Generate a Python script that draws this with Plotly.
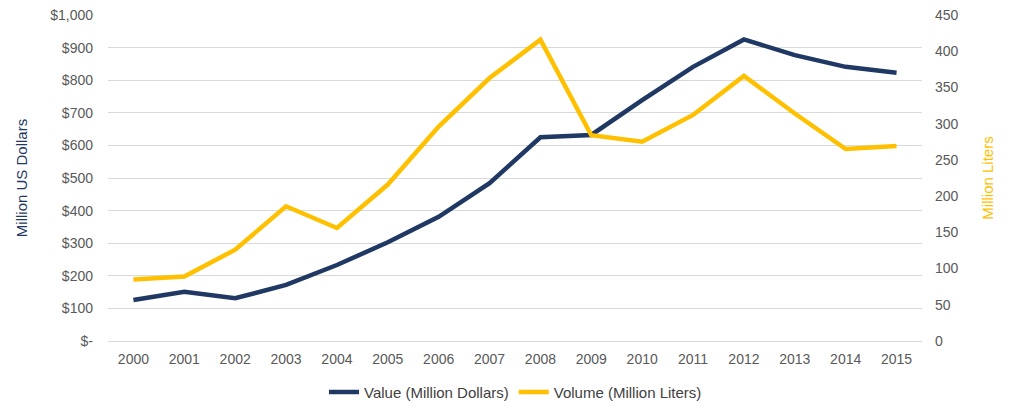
import plotly.graph_objects as go

years = [str(y) for y in range(2000, 2016)]
value_musd = [126, 151, 131, 172, 233, 303, 381, 484, 625, 632, 739, 841, 925, 877, 841, 823]
volume_ml = [85, 89, 126, 186, 156, 216, 296, 363, 416, 284, 275, 312, 366, 314, 265, 269]

left_tickvals = [0, 100, 200, 300, 400, 500, 600, 700, 800, 900, 1000]
left_ticktext = ["$-", "$100", "$200", "$300", "$400", "$500", "$600", "$700", "$800", "$900", "$1,000"]
right_tickvals = [0, 50, 100, 150, 200, 250, 300, 350, 400, 450]

NAVY = "#1f3864"
GOLD = "#ffc000"
FONT = "Liberation Sans, Arial, sans-serif"

fig = go.Figure()
fig.add_trace(go.Scatter(x=years, y=value_musd, name="Value (Million Dollars)",
                         mode="lines", line=dict(color=NAVY, width=4.5), yaxis="y"))
fig.add_trace(go.Scatter(x=years, y=volume_ml, name="Volume (Million Liters)",
                         mode="lines", line=dict(color=GOLD, width=4.5), yaxis="y2"))

fig.update_layout(
    width=1015, height=414,
    margin=dict(l=100, r=101, t=7, b=81, autoexpand=False),
    paper_bgcolor="white", plot_bgcolor="white",
    font=dict(family=FONT, size=14, color="#595959"),
    showlegend=True,
    legend=dict(orientation="h", x=0.5, xanchor="center", xref="container",
                y=0.072, yanchor="middle", yref="container",
                font=dict(size=15, color="#404040"), itemwidth=30),
    xaxis=dict(type="category", range=[-0.5, 15.5], showgrid=False, showline=True,
               linecolor="#d9d9d9", linewidth=1, ticks="outside", ticklen=5,
               tickcolor="rgba(0,0,0,0)", tickfont=dict(size=14, color="#595959")),
    yaxis=dict(range=[0, 1000], tickvals=left_tickvals, ticktext=left_ticktext,
               showgrid=True, gridcolor="#d9d9d9", gridwidth=1, zeroline=False,
               ticks="", ticklabelstandoff=14, ticklabeloverflow="allow",
               title=dict(text="Million US Dollars", font=dict(size=15, color=NAVY), standoff=18),
               tickfont=dict(size=14, color="#595959")),
    yaxis2=dict(range=[0, 450], tickvals=right_tickvals, overlaying="y", side="right",
                showgrid=False, zeroline=False, ticks="", ticklabelstandoff=12,
                ticklabeloverflow="allow",
                title=dict(text="Million Liters", font=dict(size=15, color=GOLD), standoff=24),
                tickfont=dict(size=14, color="#595959")),
)

fig.write_html("out.html")
